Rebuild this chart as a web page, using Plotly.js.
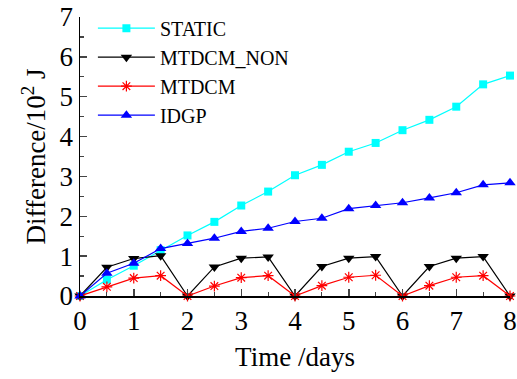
<!DOCTYPE html>
<html>
<head>
<meta charset="utf-8">
<script src="https://cdn.plot.ly/plotly-3.0.1.min.js"></script>
<style>html,body{margin:0;padding:0;background:#fff;}#chart{width:517px;height:379px;}</style>
</head>
<body>
<div id="chart"></div>
<script>
var days = [0,0.5,1,1.5,2,2.5,3,3.5,4,4.5,5,5.5,6,6.5,7,7.5,8];
var staticVals = [0,0.41,0.76,1.15,1.52,1.86,2.27,2.62,3.03,3.29,3.62,3.84,4.16,4.42,4.75,5.31,5.53];
var mtdcmNonVals = [0,0.72,0.94,1.01,0,0.73,0.95,0.98,0,0.74,0.95,0.99,0,0.74,0.95,0.99,0];
var mtdcmVals = [0,0.23,0.45,0.51,0,0.25,0.46,0.51,0,0.26,0.47,0.52,0,0.26,0.47,0.51,0];
var idgpVals = [0,0.57,0.82,1.19,1.32,1.45,1.62,1.70,1.87,1.95,2.19,2.27,2.34,2.46,2.59,2.79,2.84];
var seriesNames = ["STATIC","MTDCM_NON","MTDCM","IDGP"];

var FAM = "Times New Roman";
var traces = [
  {x: days, y: staticVals, name: seriesNames[0], mode: "lines+markers",
   line: {color: "#00ffff", width: 1.2}, marker: {symbol: "square", size: 8, color: "#00ffff"}},
  {x: days, y: mtdcmNonVals, name: seriesNames[1], mode: "lines+markers",
   line: {color: "#000000", width: 1.2}, marker: {symbol: "triangle-down", size: 10, color: "#000000"}},
  {x: days, y: mtdcmVals, name: seriesNames[2], mode: "lines+markers",
   line: {color: "#ff0000", width: 1.2}, marker: {symbol: "asterisk-open", size: 9, color: "#ff0000", line: {color: "#ff0000", width: 1.2}}},
  {x: days, y: idgpVals, name: seriesNames[3], mode: "lines+markers",
   line: {color: "#0000ff", width: 1.2}, marker: {symbol: "triangle-up", size: 10, color: "#0000ff"}}
];
traces.forEach(function(t){ t.cliponaxis = false; });

var layout = {
  width: 517, height: 379,
  margin: {l: 80, r: 7, t: 17, b: 83},
  paper_bgcolor: "#fff", plot_bgcolor: "#fff",
  font: {family: FAM, color: "#000", size: 20},
  showlegend: true,
  legend: {x: 0.03, y: 1.03, xanchor: "left", yanchor: "top", bgcolor: "rgba(0,0,0,0)",
           itemwidth: 57, font: {size: 20}},
  xaxis: {range: [0, 8], dtick: 1, ticks: "inside", ticklen: 7, tickwidth: 1.5,
          showline: true, linewidth: 1.5, linecolor: "#000", showgrid: false, zeroline: false,
          tickfont: {size: 27},
          minor: {dtick: 0.5, ticks: "inside", ticklen: 4, tickwidth: 1.2, showgrid: false},
          title: {text: "Time /days", font: {size: 27}, standoff: 12}},
  yaxis: {range: [0, 7], dtick: 1, ticks: "inside", ticklen: 7, tickwidth: 1.5,
          showline: true, linewidth: 1.5, linecolor: "#000", showgrid: false, zeroline: false,
          tickfont: {size: 27},
          minor: {dtick: 0.5, ticks: "inside", ticklen: 4, tickwidth: 1.2, showgrid: false},
          title: {text: "Difference/10<sup>2</sup> J", font: {size: 27}, standoff: 6}}
};
Plotly.newPlot("chart", traces, layout, {displayModeBar: false, staticPlot: true});
</script>
</body>
</html>
